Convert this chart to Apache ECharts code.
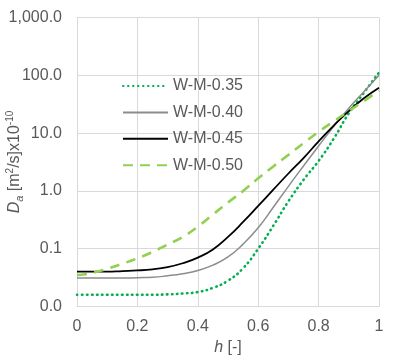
<!DOCTYPE html>
<html><head><meta charset="utf-8">
<script src="https://cdn.jsdelivr.net/npm/echarts@6/dist/echarts.min.js"></script>
<style>html,body{margin:0;padding:0;background:#fff}#c{width:396px;height:357px}</style>
</head><body><div id="c"></div>
<script>
const h = [0,0.05,0.1,0.15,0.2,0.25,0.3,0.35,0.4,0.45,0.5,0.55,0.6,0.65,0.7,0.75,0.8,0.85,0.9,0.95,1.0];
const wm035 = [0.016,0.016,0.016,0.016,0.016,0.016,0.0162,0.0168,0.0178,0.021,0.028,0.046,0.1,0.25,0.66,1.55,3.3,8,22,50,112];
const wm040 = [0.031,0.031,0.031,0.031,0.0315,0.032,0.034,0.037,0.042,0.052,0.072,0.12,0.23,0.52,1.2,2.7,6.0,13,27,52,100];
const wm045 = [0.040,0.040,0.040,0.041,0.042,0.044,0.048,0.056,0.07,0.097,0.16,0.29,0.55,1.05,2.0,3.7,7.2,13.5,24,40,61];
const wm050 = [0.035,0.038,0.045,0.055,0.068,0.088,0.118,0.16,0.24,0.39,0.63,1.0,1.65,2.65,4.2,6.7,10.5,16,24,36,54];
const seriesNames = ['W-M-0.35','W-M-0.40','W-M-0.45','W-M-0.50'];
const xTicks = [0,0.2,0.4,0.6,0.8,1];

const pairs = arr => h.map((x,i)=>[x,arr[i]]);
const font = 'Liberation Sans, Arial, sans-serif';
const txt = '#595959';
const chart = echarts.init(document.getElementById('c'));
chart.setOption({
  animation:false,
  textStyle:{fontFamily:font},
  grid:{left:77,right:17,top:17.5,bottom:50.5,containLabel:false,outerBoundsMode:'none'},
  legend:{
    orient:'vertical', left:117, top:73, itemWidth:45, itemHeight:14, itemGap:10.4,
    itemStyle:{opacity:0},
    textStyle:{fontSize:16,color:txt,fontFamily:font},
    data:seriesNames
  },
  xAxis:{
    type:'value', min:0, max:1, interval:0.2,
    name:'{i|h} [-]', nameLocation:'middle', nameGap:32,
    nameTextStyle:{fontSize:16,color:txt,fontFamily:font,rich:{i:{fontStyle:'italic',fontSize:16,color:txt,fontFamily:font}}},
    axisLine:{show:true,lineStyle:{color:'#d9d9d9',width:1}},
    axisTick:{show:false},
    axisLabel:{fontSize:16,color:txt,margin:12,formatter:v=>String(+v.toFixed(1))},
    splitLine:{show:true,lineStyle:{color:'#d9d9d9',width:1}}
  },
  yAxis:{
    type:'log', logBase:10, min:0.01, max:1000,
    name:'{i|D}{sub|a} [m{sup|2}/s]x10{sup|-10}', nameLocation:'middle', nameGap:52, nameRotate:90,
    nameMoveOverlap:false,
    nameTextStyle:{fontSize:16,color:txt,fontFamily:font,lineHeight:20,
      rich:{
        i:{fontStyle:'italic',fontSize:16,color:txt,fontFamily:font,lineHeight:20},
        sub:{fontStyle:'italic',fontSize:11,color:txt,fontFamily:font,verticalAlign:'bottom',lineHeight:12},
        sup:{fontSize:10,color:txt,fontFamily:font,verticalAlign:'top',lineHeight:10}
      }},
    axisLine:{show:true,lineStyle:{color:'#d9d9d9',width:1}},
    axisTick:{show:false},
    axisLabel:{fontSize:16,color:txt,margin:15,
      formatter:v=>Number(v).toLocaleString('en-US',{minimumFractionDigits:1,maximumFractionDigits:1})},
    splitLine:{show:true,lineStyle:{color:'#d9d9d9',width:1}}
  },
  series:[
    {name:seriesNames[0],type:'line',smooth:0.5,symbol:'none',data:pairs(wm035),
     itemStyle:{color:'#00b050'},
     lineStyle:{color:'#00b050',width:2.6,type:[0.5,4.5],cap:'round'}},
    {name:seriesNames[1],type:'line',smooth:0.5,symbol:'none',data:pairs(wm040),
     itemStyle:{color:'#8c8c8c'},
     lineStyle:{color:'#8c8c8c',width:1.5}},
    {name:seriesNames[2],type:'line',smooth:0.5,symbol:'none',data:pairs(wm045),
     itemStyle:{color:'#000000'},
     lineStyle:{color:'#000000',width:1.8}},
    {name:seriesNames[3],type:'line',smooth:0.5,symbol:'none',data:pairs(wm050),
     itemStyle:{color:'#92d050'},
     lineStyle:{color:'#92d050',width:2.6,type:[10,7]}}
  ]
});
</script></body></html>
